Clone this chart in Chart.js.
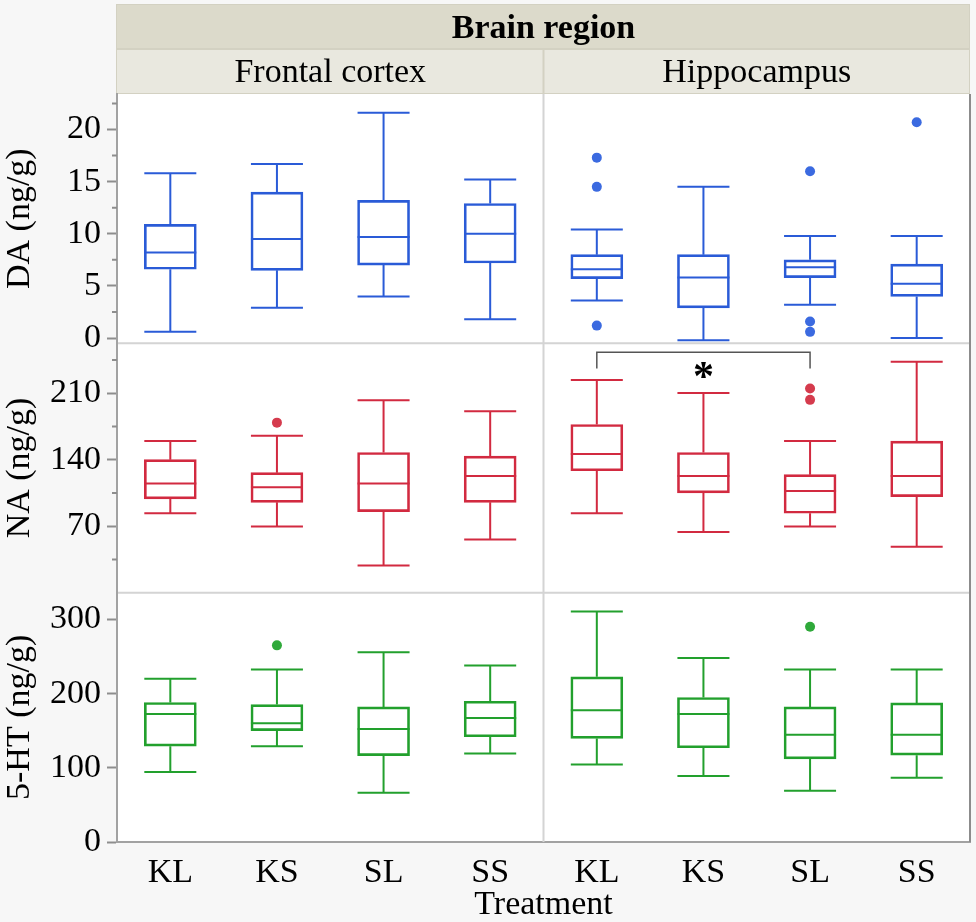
<!DOCTYPE html>
<html>
<head>
<meta charset="utf-8">
<title>Brain region box plots</title>
<script src="https://cdn.jsdelivr.net/npm/chart.js@4.4.1/dist/chart.umd.min.js"></script>
<style>
  html, body { margin: 0; padding: 0; background: #f7f7f7; }
  #wrap { position: relative; width: 976px; height: 922px; }
</style>
</head>
<body>
<div id="wrap"><canvas id="boxChart"></canvas></div>
<script>
const treatments = ['KL', 'KS', 'SL', 'SS'];
const regions = ['Frontal cortex', 'Hippocampus'];

// [lower whisker, Q1, median, Q3, upper whisker] for KL, KS, SL, SS
const daFrontal = [[0.6, 6.6, 8.2, 10.9, 15.8], [2.9, 6.5, 9.5, 14.0, 16.7], [4.0, 7.0, 9.7, 13.2, 21.6], [1.8, 7.2, 10.0, 12.9, 15.2]];
const daHippo = [[3.6, 5.7, 6.6, 8.0, 10.4], [-0.2, 2.9, 5.8, 8.0, 14.5], [3.2, 5.8, 6.8, 7.5, 9.8], [0.0, 4.0, 5.2, 7.1, 9.8]];
const naFrontal = [[83.6, 98.7, 114.8, 140.0, 159.6], [69.6, 95.1, 110.9, 126.3, 165.2], [28.7, 85.4, 114.8, 147.6, 202.6], [56.0, 95.1, 122.8, 143.8, 191.1]];
const naHippo = [[83.6, 128.4, 146.0, 177.0, 224.0], [64.0, 105.0, 122.8, 147.6, 210.3], [69.6, 83.6, 107.1, 124.2, 159.6], [48.3, 101.1, 122.8, 159.6, 243.2]];
const htFrontal = [[94.4, 129.2, 172.5, 188.0, 220.0], [129.2, 150.0, 159.9, 185.2, 232.6], [66.4, 116.5, 152.2, 182.0, 255.6], [119.2, 141.8, 167.1, 189.7, 238.0]];
const htHippo = [[104.3, 139.6, 177.5, 222.6, 310.7], [89.0, 127.0, 172.5, 194.7, 248.0], [69.1, 112.0, 144.6, 182.0, 232.6], [86.7, 117.0, 144.6, 187.4, 232.6]];

// outliers per treatment
const daFrontalOut = [[], [], [], []];
const daHippoOut = [[17.3, 14.5, 1.2], [], [16.0, 1.6, 0.6], [20.7]];
const naFrontalOut = [[], [179], [], []];
const naHippoOut = [[], [], [215, 203], []];
const htFrontalOut = [[], [265], [], []];
const htHippoOut = [[], [], [290], []];

const daTicks = [0, 5, 10, 15, 20];
const daMinorTicks = [2.5, 7.5, 12.5, 17.5, 22.5];
const naTicks = [70, 140, 210];
const naMinorTicks = [35, 105, 175, 245];
const htTicks = [0, 100, 200, 300];

// hippocampus NA: KL vs SL
const sigPair = [0, 2];
const sigBracket = [236, 253];
const sigStarAt = 234;

const FAMILY = "'Liberation Serif', 'Times New Roman', serif";
const FS = 34;
const BOX_W = 52;
const colors = {
  yDA: ['#2a5bd7', '#3b6ae0'],
  yNA: ['#d22a40', '#d53b4d'],
  yHT: ['#22a02d', '#2fa93a']
};

const panels = [
  { axis: 'yDA', region: 0, stats: daFrontal, out: daFrontalOut },
  { axis: 'yDA', region: 1, stats: daHippo, out: daHippoOut },
  { axis: 'yNA', region: 0, stats: naFrontal, out: naFrontalOut },
  { axis: 'yNA', region: 1, stats: naHippo, out: naHippoOut },
  { axis: 'yHT', region: 0, stats: htFrontal, out: htFrontalOut },
  { axis: 'yHT', region: 1, stats: htHippo, out: htHippoOut }
];

const xOf = (region, i) => region * 4 + i + 1;

const datasets = [];
panels.forEach(p => {
  const [line, dot] = colors[p.axis];
  datasets.push({
    type: 'bar',
    xAxisID: 'x',
    yAxisID: p.axis,
    data: p.stats.map((s, i) => ({ x: xOf(p.region, i), y: [s[1], s[3]] })),
    backgroundColor: 'rgba(255,255,255,0)',
    borderColor: line,
    borderWidth: 2,
    borderSkipped: false,
    barThickness: BOX_W,
    grouped: false
  });
  const pts = [];
  p.out.forEach((vals, i) => vals.forEach(v => pts.push({ x: xOf(p.region, i), y: v })));
  if (pts.length) {
    datasets.push({
      type: 'scatter',
      xAxisID: 'x',
      yAxisID: p.axis,
      data: pts,
      pointRadius: 5,
      pointBackgroundColor: dot,
      pointBorderWidth: 0
    });
  }
});

function yAxis(title, min, max, major, minor, weight) {
  return {
    type: 'linear',
    axis: 'y',
    position: 'left',
    stack: 'rows',
    stackWeight: 1,
    weight: weight,
    min: min,
    max: max,
    afterBuildTicks: s => { s.ticks = major.concat(minor).map(v => ({ value: v })); },
    afterFit: s => { s.width = 117; },
    ticks: {
      autoSkip: false,
      padding: 6,
      color: '#000',
      font: { family: FAMILY, size: FS },
      callback: v => major.includes(v) ? String(v) : ''
    },
    grid: {
      drawOnChartArea: false,
      tickLength: 10,
      tickWidth: 2,
      tickColor: c => (c.tick && major.includes(c.tick.value)) ? '#8e8e8e' : 'rgba(0,0,0,0)'
    },
    border: { color: '#a2a2a2', width: 2 },
    title: {
      display: true,
      text: title,
      color: '#000',
      font: { family: FAMILY, size: FS, lineHeight: 1.1 },
      padding: { top: 1, bottom: 0 }
    }
  };
}

const panelFrame = {
  id: 'panelFrame',
  beforeDraw(chart) {
    const { ctx, chartArea: a, scales } = chart;
    const mid = scales.x.getPixelForValue(4.5);
    ctx.save();
    ctx.fillStyle = '#ffffff';
    ctx.fillRect(a.left, a.top, a.right - a.left, a.bottom - a.top);
    // facet strips
    ctx.fillStyle = '#d3d1c2';
    ctx.fillRect(a.left - 1, 4, a.right - a.left + 1, a.top - 4);
    ctx.fillStyle = '#dcdacb';
    ctx.fillRect(a.left, 5, a.right - a.left - 1, 43);
    ctx.fillStyle = '#e9e8df';
    ctx.fillRect(a.left, 50, mid - a.left - 1, 43);
    ctx.fillRect(mid + 1, 50, a.right - mid - 2, 43);
    ctx.fillStyle = '#000';
    ctx.textAlign = 'center';
    ctx.textBaseline = 'alphabetic';
    ctx.font = 'bold ' + FS + 'px ' + FAMILY;
    ctx.fillText('Brain region', (a.left + a.right) / 2, 38);
    ctx.font = FS + 'px ' + FAMILY;
    ctx.fillText(regions[0], (a.left + mid) / 2, 82);
    ctx.fillText(regions[1], (mid + a.right) / 2, 82);
    ctx.restore();
  },
  beforeDatasetsDraw(chart) {
    const { ctx, chartArea: a, scales } = chart;
    const mid = scales.x.getPixelForValue(4.5);
    ctx.save();
    ctx.lineWidth = 2;
    ctx.strokeStyle = '#d4d4d4';
    ctx.beginPath();
    [scales.yDA.bottom, scales.yNA.bottom].forEach(y => {
      ctx.moveTo(a.left + 1, y);
      ctx.lineTo(a.right, y);
    });
    ctx.moveTo(mid, a.top);
    ctx.lineTo(mid, a.bottom);
    ctx.stroke();
    ctx.strokeStyle = '#8c8c8c';
    ctx.beginPath();
    ctx.moveTo(a.right, a.top);
    ctx.lineTo(a.right, a.bottom);
    ctx.stroke();
    // minor ticks
    ctx.strokeStyle = '#8e8e8e';
    ctx.beginPath();
    [['yDA', daMinorTicks], ['yNA', naMinorTicks]].forEach(([id, vals]) => {
      vals.forEach(v => {
        const y = scales[id].getPixelForValue(v);
        ctx.moveTo(a.left - 5, y);
        ctx.lineTo(a.left, y);
      });
    });
    ctx.stroke();
    ctx.restore();
  }
};

const whiskers = {
  id: 'whiskers',
  afterDatasetsDraw(chart) {
    const { ctx, scales } = chart;
    const half = BOX_W / 2;
    ctx.save();
    ctx.lineWidth = 2;
    panels.forEach(p => {
      const ys = scales[p.axis];
      ctx.strokeStyle = colors[p.axis][0];
      p.stats.forEach((s, i) => {
        const x = scales.x.getPixelForValue(xOf(p.region, i));
        const [lo, q1, med, q3, hi] = s.map(v => ys.getPixelForValue(v));
        ctx.beginPath();
        ctx.moveTo(x, q3); ctx.lineTo(x, hi);
        ctx.moveTo(x - half, hi); ctx.lineTo(x + half, hi);
        ctx.moveTo(x, q1); ctx.lineTo(x, lo);
        ctx.moveTo(x - half, lo); ctx.lineTo(x + half, lo);
        ctx.moveTo(x - half, med); ctx.lineTo(x + half, med);
        ctx.stroke();
      });
    });
    // significance bracket
    const na = scales.yNA;
    const xa = scales.x.getPixelForValue(xOf(1, sigPair[0]));
    const xb = scales.x.getPixelForValue(xOf(1, sigPair[1]));
    const yLeg = na.getPixelForValue(sigBracket[0]);
    const yBar = na.getPixelForValue(sigBracket[1]);
    ctx.strokeStyle = '#555555';
    ctx.lineWidth = 1.5;
    ctx.beginPath();
    ctx.moveTo(xa, yLeg); ctx.lineTo(xa, yBar); ctx.lineTo(xb, yBar); ctx.lineTo(xb, yLeg);
    ctx.stroke();
    ctx.fillStyle = '#000';
    ctx.font = 'bold 42px ' + FAMILY;
    ctx.textAlign = 'center';
    ctx.textBaseline = 'alphabetic';
    ctx.fillText('*', (xa + xb) / 2, na.getPixelForValue(sigStarAt) + 20);
    ctx.restore();
  }
};

new Chart(document.getElementById('boxChart'), {
  type: 'bar',
  data: { datasets: datasets },
  options: {
    responsive: true,
    maintainAspectRatio: false,
    animation: false,
    layout: { padding: { top: 94, right: 6, left: 0, bottom: 0 } },
    plugins: {
      legend: { display: false },
      tooltip: { enabled: false }
    },
    scales: {
      x: {
        type: 'linear',
        position: 'bottom',
        offset: false,
        min: 0.5,
        max: 8.5,
        afterBuildTicks: s => { s.ticks = [1, 2, 3, 4, 5, 6, 7, 8].map(v => ({ value: v })); },
        afterFit: s => { s.height = 80; },
        ticks: {
          autoSkip: false,
          maxRotation: 0,
          padding: 3,
          color: '#000',
          font: { family: FAMILY, size: FS, lineHeight: 1.2 },
          callback: (v, i) => treatments[i % 4]
        },
        grid: { display: false },
        border: { display: true, color: '#a2a2a2', width: 2 },
        title: {
          display: true,
          text: 'Treatment',
          color: '#000',
          font: { family: FAMILY, size: FS, lineHeight: 1 },
          padding: { top: 0, bottom: 0 }
        }
      },
      yDA: yAxis('DA (ng/g)', -0.5, 23.4, daTicks, daMinorTicks, 3),
      yNA: yAxis('NA (ng/g)', 0, 262.5, naTicks, naMinorTicks, 2),
      yHT: yAxis('5-HT (ng/g)', 0, 336, htTicks, [], 1)
    }
  },
  plugins: [panelFrame, whiskers]
});
</script>
</body>
</html>
